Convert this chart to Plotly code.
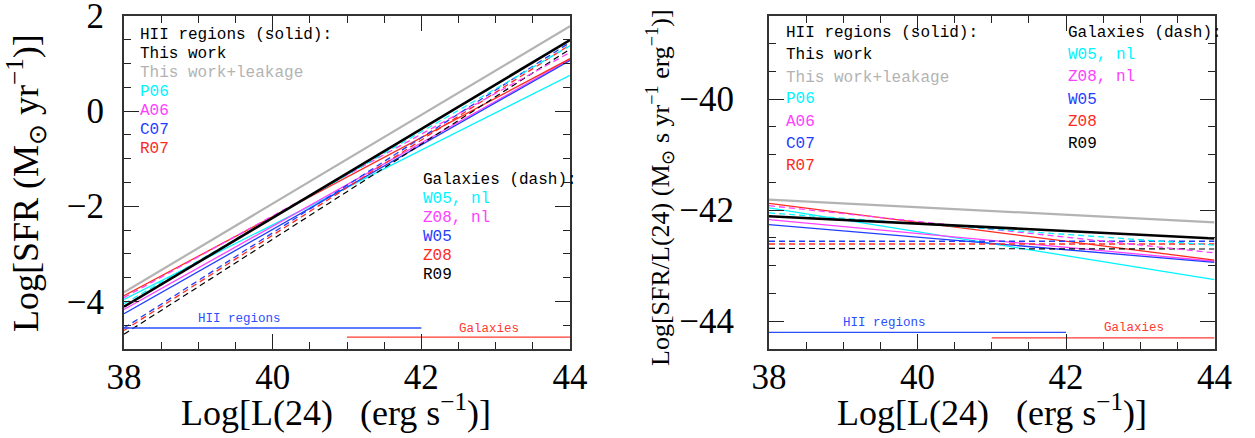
import plotly.graph_objects as go

# ---------------- data ----------------
L_ENDS = [38, 44]  # Log L(24) at the ends of each calibration line
SERIES_NAMES = ["This work", "This work+leakage", "P06", "A06", "C07", "R07",
                "W05, nl", "Z08, nl", "W05", "Z08", "R09"]
# Log[SFR/L(24)] at L = 38 and L = 44
RATIO_AT_38 = [-42.11, -41.81, -41.96, -42.17, -42.26, -41.88,
               -42.05, -41.92, -42.56, -42.61, -42.69]
RATIO_AT_44 = [-42.51, -42.22, -43.25, -42.92, -42.94, -42.90,
               -42.63, -42.77, -42.56, -42.61, -42.70]

HII_RANGE_X = [38, 42]
GAL_RANGE_X = [41, 44]
HII_BAR_LEFT = -4.56
GAL_BAR_LEFT = -4.75
HII_BAR_RIGHT = -44.20
GAL_BAR_RIGHT = -44.30

X_TICKS = [38, 40, 42, 44]
Y_TICKS_LEFT = [-4, -2, 0, 2]
Y_TICKS_RIGHT = [-44, -42, -40]

HII_LEGEND = ["HII regions (solid):", "This work", "This work+leakage", "P06", "A06", "C07", "R07"]
GAL_LEGEND = ["Galaxies (dash):", "W05, nl", "Z08, nl", "W05", "Z08", "R09"]

# ---------------- styles ----------------
BLACK = "#000000"
GRAY = "#b3b3b3"
CYAN = "#00f5ff"
MAGENTA = "#ff40ff"
BLUE = "#1f3dff"
RED = "#ff2a1f"

STYLE = {
    "This work": (BLACK, "solid", 2.6),
    "This work+leakage": (GRAY, "solid", 2.2),
    "P06": (CYAN, "solid", 1.3),
    "A06": (MAGENTA, "solid", 1.3),
    "C07": (BLUE, "solid", 1.3),
    "R07": (RED, "solid", 1.3),
    "W05, nl": (CYAN, "6px,4px", 1.3),
    "Z08, nl": (MAGENTA, "6px,4px", 1.3),
    "W05": (BLUE, "6px,4px", 1.3),
    "Z08": (RED, "6px,4px", 1.3),
    "R09": (BLACK, "6px,4px", 1.2),
}
HII_LEG_COLORS = [BLACK, BLACK, GRAY, CYAN, MAGENTA, BLUE, RED]
GAL_LEG_COLORS = [BLACK, CYAN, MAGENTA, BLUE, RED, BLACK]

fig = go.Figure()

draw_order = ["This work+leakage", "P06", "A06", "C07", "R07",
              "R09", "Z08", "W05", "Z08, nl", "W05, nl", "This work"]
for name in draw_order:
    i = SERIES_NAMES.index(name)
    color, dash, width = STYLE[name]
    ratio = [RATIO_AT_38[i], RATIO_AT_44[i]]
    sfr = [r + l for r, l in zip(ratio, L_ENDS)]
    fig.add_trace(go.Scatter(x=L_ENDS, y=sfr, mode="lines", name=name,
                             line=dict(color=color, dash=dash, width=width),
                             xaxis="x", yaxis="y", showlegend=False, hoverinfo="skip"))
    fig.add_trace(go.Scatter(x=L_ENDS, y=ratio, mode="lines", name=name,
                             line=dict(color=color, dash=dash, width=width),
                             xaxis="x2", yaxis="y2", showlegend=False, hoverinfo="skip"))

# range bars
for xa, ya, hy, gy in [("x", "y", HII_BAR_LEFT, GAL_BAR_LEFT), ("x2", "y2", HII_BAR_RIGHT, GAL_BAR_RIGHT)]:
    fig.add_trace(go.Scatter(x=HII_RANGE_X, y=[hy, hy], mode="lines",
                             line=dict(color="#2a4dff", width=1.4), xaxis=xa, yaxis=ya,
                             showlegend=False, hoverinfo="skip"))
    fig.add_trace(go.Scatter(x=GAL_RANGE_X, y=[gy, gy], mode="lines",
                             line=dict(color="#ff3b30", width=1.4), xaxis=xa, yaxis=ya,
                             showlegend=False, hoverinfo="skip"))

FRAME = "#333333"
axis_common = dict(
    showline=True, linecolor=FRAME, linewidth=2, mirror="allticks",
    ticks="inside", ticklen=15, tickwidth=1.4, tickcolor="#222222",
    showgrid=False, zeroline=False, automargin=False, ticklabeloverflow="allow",
    tickfont=dict(family="Liberation Serif", size=35, color="black"),
    minor=dict(ticks="inside", ticklen=7, tickwidth=1.2, tickcolor="#222222",
               dtick=0.5, showgrid=False),
)

YDOM = [1 - 349 / 438, 1 - 15.7 / 438]
fig.update_layout(
    width=1255, height=438,
    margin=dict(l=0, r=0, t=0, b=0, autoexpand=False),
    paper_bgcolor="white", plot_bgcolor="white",
    xaxis=dict(axis_common, domain=[124 / 1255, 570 / 1255], range=[38, 44],
               tickvals=X_TICKS, anchor="y", ticklabelstandoff=-4),
    yaxis=dict(axis_common, domain=YDOM, range=[-5, 2.002], tickvals=Y_TICKS_LEFT,
               anchor="x", ticklabelstandoff=11),
    xaxis2=dict(axis_common, domain=[769 / 1255, 1214.5 / 1255], range=[38, 44],
                tickvals=X_TICKS, anchor="y2", ticklabelstandoff=-4),
    yaxis2=dict(axis_common, domain=YDOM, range=[-44.5, -38.5], tickvals=Y_TICKS_RIGHT,
                anchor="x2", ticklabelstandoff=26),
)

ann = []
MONO = "Liberation Mono"
left_hii_y = [1.59, 1.19, 0.80, 0.40, 0.0, -0.40, -0.80]
left_gal_y = [-1.45, -1.84, -2.24, -2.64, -3.05, -3.45]
right_hii_y = [-38.816, -39.207, -39.616, -40.005, -40.41, -40.81, -41.20]
right_gal_y = [-38.82, -39.21, -39.61, -40.02, -40.41, -40.81]
for (xr, yr, x0, ys, texts, cols) in [
    ("x", "y", 38.20, left_hii_y, HII_LEGEND, HII_LEG_COLORS),
    ("x", "y", 42.01, left_gal_y, GAL_LEGEND, GAL_LEG_COLORS),
    ("x2", "y2", 38.21, right_hii_y, HII_LEGEND, HII_LEG_COLORS),
    ("x2", "y2", 42.02, right_gal_y, GAL_LEGEND, GAL_LEG_COLORS),
]:
    for t, yv, c in zip(texts, ys, cols):
        ann.append(dict(x=x0, y=yv, xref=xr, yref=yr, text=t, showarrow=False,
                        xanchor="left", yanchor="middle", borderpad=0,
                        font=dict(family=MONO, size=16, color=c)))

# range labels
ann += [
    dict(x=39.56, y=-4.38, xref="x", yref="y", text="HII regions", showarrow=False,
         font=dict(family=MONO, size=12.5, color="#2a4dff")),
    dict(x=42.91, y=-4.57, xref="x", yref="y", text="Galaxies", showarrow=False,
         font=dict(family=MONO, size=12.5, color="#ff3b30")),
    dict(x=39.55, y=-44.03, xref="x2", yref="y2", text="HII regions", showarrow=False,
         font=dict(family=MONO, size=12.5, color="#2a4dff")),
    dict(x=42.92, y=-44.12, xref="x2", yref="y2", text="Galaxies", showarrow=False,
         font=dict(family=MONO, size=12.5, color="#ff3b30")),
]

SERIF = "Liberation Serif"
xtitle = "Log[L(24)\u00a0\u00a0\u00a0(erg s<sup>\u22121</sup>)]"
ann += [
    dict(x=336 / 1255, y=1 - 410 / 438, xref="paper", yref="paper", text=xtitle,
         showarrow=False, xanchor="center", yanchor="middle",
         font=dict(family=SERIF, size=36, color="black")),
    dict(x=992 / 1255, y=1 - 410 / 438, xref="paper", yref="paper", text=xtitle,
         showarrow=False, xanchor="center", yanchor="middle",
         font=dict(family=SERIF, size=36, color="black")),
    dict(x=26 / 1255, y=1 - 183 / 438, xref="paper", yref="paper",
         text="Log[SFR\u00a0(M<sub>\u2299</sub> yr<sup>\u22121</sup>)]", textangle=-90,
         showarrow=False, xanchor="center", yanchor="middle",
         font=dict(family=SERIF, size=36, color="black")),
    dict(x=660 / 1255, y=1 - 188 / 438, xref="paper", yref="paper",
         text="Log[SFR/L(24)\u00a0(M<sub>\u2299</sub> s yr<sup>\u22121</sup> erg<sup>\u22121</sup>)]",
         textangle=-90, showarrow=False, xanchor="center", yanchor="middle",
         font=dict(family=SERIF, size=26, color="black")),
]
fig.update_layout(annotations=ann)

fig.write_html("out.html")
